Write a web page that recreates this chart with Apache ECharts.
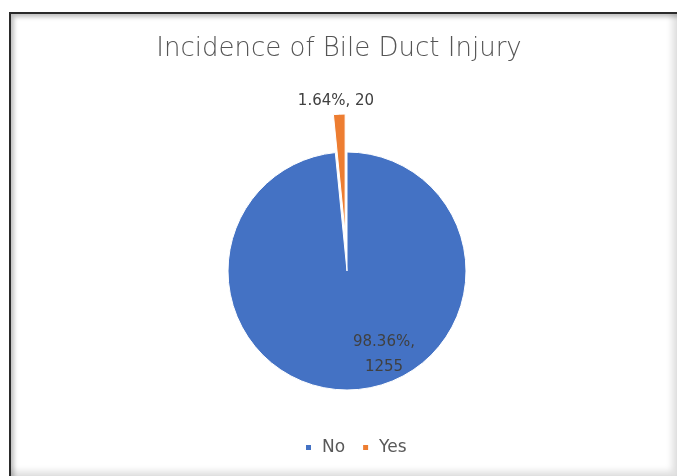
<!DOCTYPE html>
<html><head><meta charset="utf-8">
<script src="https://cdn.jsdelivr.net/npm/echarts@6/dist/echarts.min.js"></script>
<style>
html,body{margin:0;padding:0;background:#fff;}
#frame{position:absolute;left:9px;top:12px;width:668px;height:464px;box-sizing:border-box;
border-top:2px solid #2a2a2a;border-left:2px solid #2a2a2a;
box-shadow:inset 3px 3px 4px rgba(0,0,0,0.25), inset -5px -5px 6px rgba(0,0,0,0.12);}
#chart{position:absolute;left:0;top:0;width:678px;height:476px;}
</style></head>
<body>
<div id="frame"></div>
<div id="chart"></div>
<script>
var titleText = 'Incidence of Bile Duct Injury';
var categories = ['No', 'Yes'];
var counts = [1255, 20];
var percents = ['98.36%', '1.64%'];
var colors = ['#4472C4', '#ED7D31'];

function labelText(i) {
  return i === 0 ? percents[i] + ',\n' + counts[i] : percents[i] + ', ' + counts[i];
}
var labelFont = { fontFamily: 'DejaVu Sans', fontSize: 15, color: '#404040', lineHeight: 25 };

var chart = echarts.init(document.getElementById('chart'));
var pieData = categories.map(function (c, i) {
  return { name: c, value: counts[i], selected: i === 1, itemStyle: { color: colors[i] } };
});
var labelData = categories.map(function (c, i) {
  return { name: c, value: counts[i], itemStyle: { color: 'rgba(0,0,0,0)' },
           label: { show: true } };
});
chart.setOption({
  animation: false,
  color: colors,
  title: {
    text: titleText, left: 'center', top: 31,
    textStyle: { fontFamily: 'DejaVu Sans', fontSize: 26, fontWeight: 300, color: '#555555' }
  },
  legend: {
    data: categories, bottom: 15, left: 299,
    icon: 'rect', itemWidth: 7, itemHeight: 7, itemGap: 16,
    textStyle: { fontFamily: 'DejaVu Sans', fontSize: 17, color: '#595959', padding: [0, 0, 0, 5] }
  },
  series: [{
    type: 'pie',
    center: [347, 271],
    radius: 119,
    startAngle: 90,
    clockwise: true,
    selectedMode: 'single',
    selectedOffset: 38,
    emphasis: { disabled: true },
    itemStyle: { borderColor: '#fff', borderWidth: 1 },
    label: { show: false },
    labelLine: { show: false },
    data: pieData
  }, {
    type: 'pie',
    center: [347, 271],
    radius: 119,
    startAngle: 90,
    clockwise: true,
    silent: true,
    legendHoverLink: false,
    emphasis: { disabled: true },
    label: Object.assign({ show: true, position: 'inside',
      formatter: function (p) { return labelText(p.dataIndex); } }, labelFont),
    labelLayout: function (p) {
      if (p.dataIndex === 0) return { x: 384, y: 355, align: 'center', verticalAlign: 'middle' };
      return { x: 336, y: 101, align: 'center', verticalAlign: 'middle' };
    },
    labelLine: { show: false },
    data: labelData
  }]
});
</script>
</body></html>
